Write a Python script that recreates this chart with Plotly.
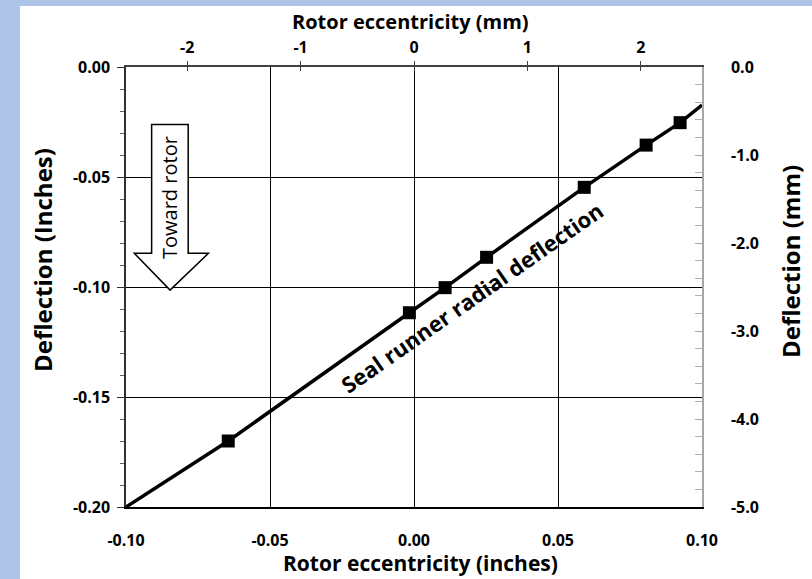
import plotly.graph_objects as go

# ---- data (inches) ----
marker_x = [-0.0645, -0.0016, 0.0108, 0.0252, 0.0591, 0.0806, 0.0924]
marker_y = [-0.1700, -0.1117, -0.1003, -0.0865, -0.0547, -0.0355, -0.0253]
line_x = [-0.100] + marker_x + [0.100]
line_y = [-0.200] + marker_y + [-0.0173]

x_in_ticks = [-0.10, -0.05, 0.00, 0.05, 0.10]
x_in_labels = ["-0.10", "-0.05", "0.00", "0.05", "0.10"]
y_in_ticks = [0.00, -0.05, -0.10, -0.15, -0.20]
y_in_labels = ["0.00", "-0.05", "-0.10", "-0.15", "-0.20"]
x_mm_ticks = [-2, -1, 0, 1, 2]
x_mm_labels = ["-2", "-1", "0", "1", "2"]
y_mm_ticks = [0.0, -1.0, -2.0, -3.0, -4.0, -5.0]
y_mm_labels = ["0.0", "-1.0", "-2.0", "-3.0", "-4.0", "-5.0"]
MM_PER_INCH = 25.4

FONT = "Open Sans"
W, H = 812, 579
L, R, T, B = 126, 110, 67, 72
PW, PH = W - L - R, H - T - B


def px(xp):
    return (xp - L) / PW


def py(yp):
    return (H - B - yp) / PH


fig = go.Figure()
fig.add_trace(go.Scatter(x=line_x, y=line_y, mode="lines",
                         line=dict(color="black", width=3.5),
                         showlegend=False, hoverinfo="skip"))
fig.add_trace(go.Scatter(x=marker_x, y=marker_y, mode="markers",
                         marker=dict(symbol="square", size=13, color="black"),
                         showlegend=False))
# placeholders so the secondary axes are drawn
fig.add_trace(go.Scatter(x=[None], y=[None], xaxis="x2", yaxis="y2",
                         showlegend=False, hoverinfo="skip"))
fig.add_trace(go.Scatter(x=[None], y=[None], xaxis="x3", yaxis="y",
                         showlegend=False, hoverinfo="skip"))

tickfont = dict(family=FONT, size=16, color="black", weight="bold")

xr_mm = [-0.1 * MM_PER_INCH, 0.1 * MM_PER_INCH]

fig.update_layout(
    width=W, height=H,
    margin=dict(l=L, r=R, t=T, b=B),
    paper_bgcolor="white", plot_bgcolor="white",
    xaxis=dict(range=[-0.1, 0.1], tickvals=x_in_ticks, ticktext=x_in_labels,
               showgrid=True, gridcolor="black", gridwidth=1, zeroline=False,
               showline=True, linecolor="black", linewidth=1.5, ticks="",
               tickfont=tickfont, ticklabelstandoff=18),
    yaxis=dict(range=[-0.2, 0.0], tickvals=y_in_ticks, ticktext=y_in_labels,
               showgrid=True, gridcolor="black", gridwidth=1, zeroline=False,
               showline=True, linecolor="#303030", linewidth=1.5,
               ticks="outside", ticklen=7, tickcolor="#303030",
               minor=dict(dtick=0.01, ticks="outside", ticklen=4, tickcolor="#606060"),
               tickfont=tickfont, ticklabelstandoff=4),
    xaxis2=dict(range=xr_mm, tickvals=x_mm_ticks, ticktext=x_mm_labels,
                overlaying="x", side="top",
                anchor="y2", showgrid=False, zeroline=False, showline=True,
                linecolor="#404040", linewidth=1.5, ticks="outside", ticklen=4,
                tickcolor="#404040", tickfont=tickfont, ticklabelstandoff=2),
    xaxis3=dict(range=xr_mm, tickvals=x_mm_ticks, overlaying="x", side="top",
                anchor="y", showgrid=False, zeroline=False, showline=False,
                ticks="inside", ticklen=4, tickcolor="#404040",
                showticklabels=False),
    yaxis2=dict(range=[-5, 0], tickvals=y_mm_ticks, ticktext=y_mm_labels,
                overlaying="y", side="right", anchor="x2", showgrid=False,
                zeroline=False, showline=True, linecolor="#a6a6a6", linewidth=1.5,
                ticks="inside", ticklen=7, tickcolor="#a6a6a6",
                minor=dict(dtick=0.2, ticks="inside", ticklen=7, tickcolor="#b0b0b0"),
                tickfont=tickfont, ticklabelstandoff=24),
)

# slide background strips
fig.add_shape(type="rect", xref="paper", yref="paper",
              x0=px(0), x1=px(20), y0=py(H), y1=py(0),
              fillcolor="#adc3e8", line_width=0, layer="below")
fig.add_shape(type="rect", xref="paper", yref="paper",
              x0=px(0), x1=px(W), y0=py(6), y1=py(0),
              fillcolor="#adc3e8", line_width=0, layer="below")

# block arrow "Toward rotor"
ax = [-0.0911, -0.0784, -0.0784, -0.0714, -0.0847, -0.0971, -0.0911]
ay = [-0.0261, -0.0261, -0.0847, -0.0847, -0.1014, -0.0847, -0.0847]
path = "M " + " L ".join(f"{x},{y}" for x, y in zip(ax, ay)) + " Z"
fig.add_shape(type="path", path=path, xref="x", yref="y",
              line=dict(color="black", width=1.5), fillcolor="white")

C = dict(xanchor="center", yanchor="middle", showarrow=False)
hfont = dict(family=FONT, size=21, color="black", weight="bold")
vfont = dict(family=FONT, size=24, color="black", weight="bold")
fig.add_annotation(text="Toward rotor", x=-0.0847, y=-0.0595, xref="x", yref="y",
                   textangle=-90, font=dict(family=FONT, size=20, color="black"), **C)
fig.add_annotation(text="Seal runner radial deflection", x=0.0201, y=-0.1045,
                   xref="x", yref="y", textangle=-35,
                   font=dict(family=FONT, size=22, color="black", weight="bold"), **C)

# axis titles
fig.add_annotation(text="Rotor eccentricity (inches)", x=px(420), y=py(563),
                   xref="paper", yref="paper", font=hfont, **C)
fig.add_annotation(text="Rotor eccentricity (mm)", x=px(410), y=py(21),
                   xref="paper", yref="paper",
                   font=dict(family=FONT, size=20, color="black", weight="bold"), **C)
fig.add_annotation(text="Deflection (Inches)", x=px(42), y=py(260), textangle=-90,
                   xref="paper", yref="paper", font=vfont, **C)
fig.add_annotation(text="Deflection (mm)", x=px(790), y=py(262), textangle=-90,
                   xref="paper", yref="paper", font=vfont, **C)

fig.write_html("out.html", config={"displayModeBar": False},
               post_script="document.body.style.margin='0';")
